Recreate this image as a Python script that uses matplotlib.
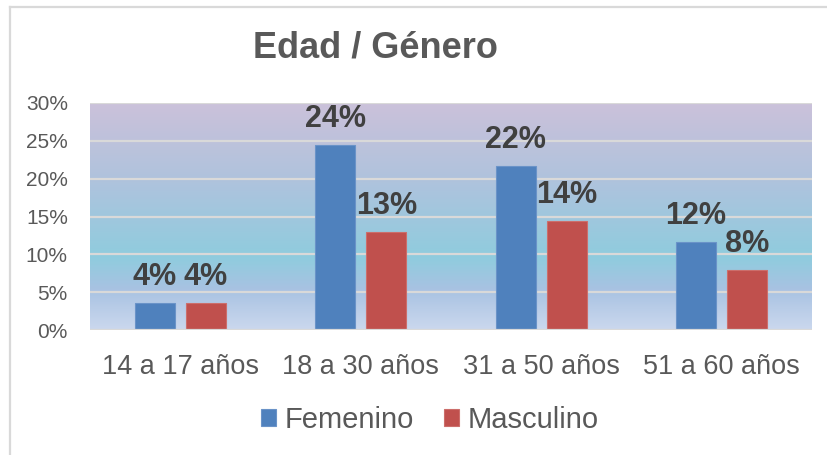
import numpy as np
import matplotlib
matplotlib.use("Agg")
import matplotlib.pyplot as plt
from matplotlib.colors import LinearSegmentedColormap
from matplotlib.lines import Line2D

plt.rcParams['font.family'] = ['Liberation Sans', 'DejaVu Sans']

categories = ["14 a 17 años", "18 a 30 años", "31 a 50 años", "51 a 60 años"]
femenino = [3.6, 24.4, 21.7, 11.6]
masculino = [3.6, 13.0, 14.4, 7.9]
series_names = ["Femenino", "Masculino"]
yticks = [0, 5, 10, 15, 20, 25, 30]

blue = "#4F81BD"
red = "#C0504D"
grid_col = "#D9D9D9"
txt_col = "#595959"

W, H = 827, 455
fig = plt.figure(figsize=(W / 100, H / 100), dpi=100)
ax = fig.add_axes([90 / W, 1 - 330 / H, (812 - 90) / W, (330 - 103) / H])

# gradient background of the plot area
cmap = LinearSegmentedColormap.from_list("bg", [
    (0.0, (203/255, 216/255, 238/255)),
    (0.18, (168/255, 194/255, 226/255)),
    (0.32, (143/255, 204/255, 222/255)),
    (0.65, (174/255, 195/255, 221/255)),
    (1.0, (203/255, 193/255, 218/255)),
])
grad = np.linspace(0, 1, 256).reshape(-1, 1)
ax.imshow(grad, cmap=cmap, aspect='auto', origin='lower',
          extent=[-0.5, 3.5, 0, 30], zorder=0)

x = np.arange(len(categories))
w = 0.222
off = 0.142
b1 = ax.bar(x - off, femenino, w, color=blue, edgecolor="#6A93C8", linewidth=0.8,
            zorder=3, label=series_names[0])
b2 = ax.bar(x + off, masculino, w, color=red, edgecolor="#CC6E6B", linewidth=0.8,
            zorder=3, label=series_names[1])

for bars, vals in ((b1, femenino), (b2, masculino)):
    for r, v in zip(bars, vals):
        ax.annotate(f"{v:.0f}%", (r.get_x() + r.get_width() / 2, v),
                    xytext=(0, 13), textcoords="offset points",
                    ha="center", va="baseline", fontsize=22, fontweight="bold",
                    color="#404040", zorder=5)

ax.set_xlim(-0.5, 3.5)
ax.set_ylim(0, 30)
ax.set_yticks(yticks)
ax.set_yticklabels([f"{t}%" for t in yticks], fontsize=15, color=txt_col)
ax.set_xticks(x)
ax.set_xticklabels(categories, fontsize=19.5, color=txt_col)
ax.tick_params(axis='both', length=0)
ax.tick_params(axis='y', pad=16)
ax.tick_params(axis='x', pad=17)
for t in yticks[1:]:
    ax.axhline(t, color=grid_col, lw=1.6, zorder=1)
ax.axhline(0, color=grid_col, lw=1.6, zorder=4)
for s in ax.spines.values():
    s.set_visible(False)

fig.text(375 / W, 1 - 57 / H, "Edad / Género", ha="center", va="baseline",
         fontsize=26, fontweight="bold", color=txt_col)

leg = fig.legend(handles=[b1, b2], labels=series_names, loc="center",
                 bbox_to_anchor=(430 / W, 1 - 420 / H), ncol=2, frameon=False,
                 fontsize=21, handlelength=0.5, handleheight=0.5,
                 handletextpad=0.3, columnspacing=1.05)
for t in leg.get_texts():
    t.set_color(txt_col)

# chart frame (top and left edges visible)
fig.add_artist(Line2D([9.5 / W, 9.5 / W], [0, 1 - 6.5 / H], color=grid_col, lw=1.6))
fig.add_artist(Line2D([9.5 / W, 1], [1 - 6.5 / H, 1 - 6.5 / H], color=grid_col, lw=1.6))

fig.savefig("out.png", dpi=100)
